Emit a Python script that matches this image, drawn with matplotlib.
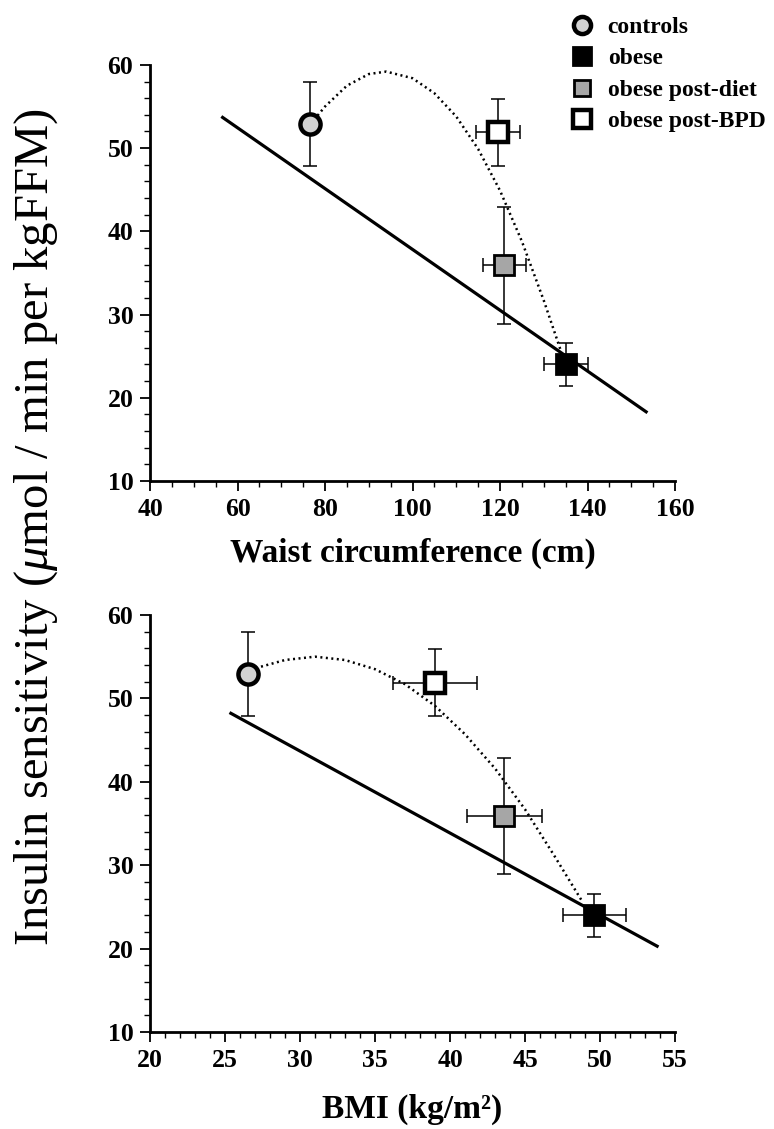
"""
Insulin sensitivity vs waist circumference and BMI

"""
import matplotlib
matplotlib.use('Agg')
import matplotlib.pyplot as plt
from matplotlib.lines import Line2D

plt.rcParams['font.family'] = ['Liberation Serif', 'DejaVu Serif']
plt.rcParams['mathtext.fontset'] = 'custom'
plt.rcParams['mathtext.rm'] = 'Liberation Serif'
plt.rcParams['mathtext.it'] = 'Liberation Serif:italic'

# group means
groups = ['controls', 'obese', 'obese post-diet', 'obese post-BPD']
waist = [76.6, 135.0, 121.0, 119.5]
waist_err = [0.0, 5.0, 5.0, 5.0]
bmi = [26.5, 49.6, 43.6, 39.0]
bmi_err = [0.0, 2.1, 2.5, 2.8]
sens = [52.9, 24.0, 35.9, 51.9]
sens_err = [5.0, 2.6, 7.0, 4.0]

# regression lines (end points)
waist_line_x = [56.3, 153.7]
waist_line_y = [53.8, 18.2]
bmi_line_x = [25.3, 53.9]
bmi_line_y = [48.3, 20.2]

# dotted curves, points
waist_curve_x = [77.5, 80, 85, 90, 94, 100, 105, 110, 115, 120, 125, 130, 134]
waist_curve_y = [53.4, 55.0, 57.5, 58.9, 59.2, 58.4, 56.6, 53.8, 49.9, 44.9, 38.8, 31.7, 25.5]
bmi_curve_x = [27.4, 29, 31, 33, 35, 37, 39, 41, 43, 45, 47, 48.8]
bmi_curve_y = [53.8, 54.6, 55.0, 54.6, 53.5, 51.7, 49.1, 45.7, 41.6, 36.7, 31.0, 25.7]

styles = [
    dict(marker='o', mfc='#d2d2d2', mec='black', mew=3.2, ms=14.5),
    dict(marker='s', mfc='black', mec='black', mew=2.0, ms=15),
    dict(marker='s', mfc='#a6a6a6', mec='black', mew=2.0, ms=14),
    dict(marker='s', mfc='white', mec='black', mew=3.2, ms=14.5),
]

fig = plt.figure(figsize=(7.74, 11.29), dpi=100)
ax1 = fig.add_axes([0.1938, 0.5740, 0.6783, 0.3685])
ax2 = fig.add_axes([0.1938, 0.0859, 0.6783, 0.3694])


def draw(ax, x, xerr, line_x, line_y, curve_x, curve_y):
    ax.plot(line_x, line_y, color='black', lw=2.3, solid_capstyle='butt', zorder=2)
    ax.plot(curve_x, curve_y, color='black', lw=1.8, ls=(0, (0.8, 1.4)), zorder=2)
    for i in range(len(groups)):
        ax.errorbar(x[i], sens[i], yerr=sens_err[i],
                    xerr=xerr[i] if xerr[i] > 0 else None,
                    fmt='none', ecolor='black', elinewidth=1.1,
                    capsize=5, capthick=1.1, zorder=3)
        ax.plot(x[i], sens[i], ls='none', zorder=4, **styles[i])
    for s in ['top', 'right']:
        ax.spines[s].set_visible(False)
    for s in ['left', 'bottom']:
        ax.spines[s].set_linewidth(2.0)
    ax.set_ylim(10, 60)
    ax.set_yticks(range(10, 61, 10))
    ax.set_yticks(range(10, 61, 2), minor=True)
    ax.tick_params(which='major', length=7, width=1.3, labelsize=18.5, pad=5)
    ax.tick_params(which='minor', length=4, width=1.0)
    for lab in ax.get_xticklabels() + ax.get_yticklabels():
        lab.set_fontweight('bold')


draw(ax1, waist, waist_err, waist_line_x, waist_line_y, waist_curve_x, waist_curve_y)
ax1.set_xlim(40, 160)
ax1.set_xticks(range(40, 161, 20))
ax1.set_xticks(range(40, 161, 5), minor=True)
for lab in ax1.get_xticklabels():
    lab.set_fontweight('bold')
ax1.set_xlabel('Waist circumference (cm)', fontsize=24, fontweight='bold', labelpad=12)

draw(ax2, bmi, bmi_err, bmi_line_x, bmi_line_y, bmi_curve_x, bmi_curve_y)
ax2.set_xlim(20, 55)
ax2.set_xticks(range(20, 56, 5))
ax2.set_xticks(range(20, 56, 1), minor=True)
for lab in ax2.get_xticklabels():
    lab.set_fontweight('bold')
ax2.set_xlabel('BMI (kg/m²)', fontsize=24, fontweight='bold', labelpad=16)

fig.text(0.047, 1 - 527 / 1129, r'Insulin sensitivity ($\mathit{\mu}$mol / min per kgFFM)',
         rotation=90, ha='center', va='center', fontsize=35)

handles = [Line2D([], [], ls='none', **styles[i]) for i in range(len(groups))]
fig.legend(handles, groups, loc='upper left', bbox_to_anchor=(0.715, 1.0),
           frameon=False, prop={'weight': 'bold', 'size': 17},
           markerscale=0.85, handlelength=1.0, handletextpad=0.6,
           labelspacing=0.42, borderpad=0.2)

fig.savefig('out.png', dpi=100)
